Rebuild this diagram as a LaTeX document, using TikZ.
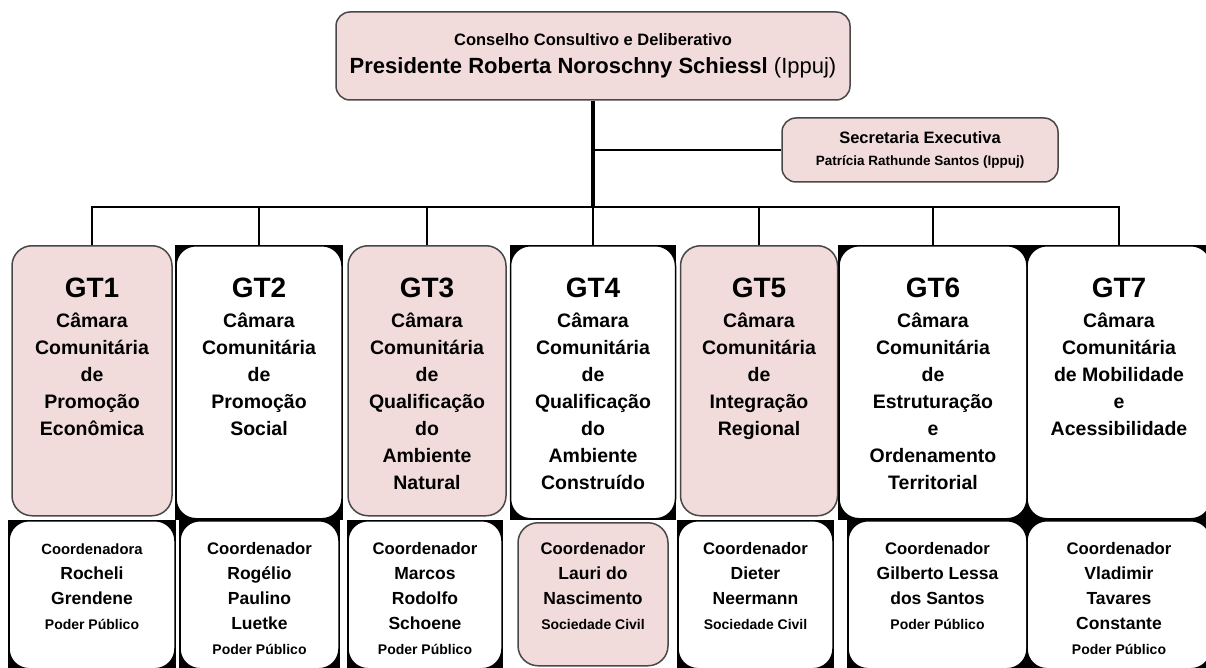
\documentclass[tikz,border=0pt]{standalone}
\usepackage{fontspec}
\setmainfont{Liberation Sans}
\usetikzlibrary{positioning}
\usetikzlibrary{backgrounds}
\definecolor{boxpink}{RGB}{242,220,219}
\definecolor{boxedge}{RGB}{72,72,72}
\newcommand{\gtfont}{\fontsize{28}{30}\selectfont}
\newcommand{\cofont}{\fontsize{16.7}{25}\selectfont}
\newcommand{\rolefont}{\fontsize{14}{25}\selectfont}
\tikzset{
    topbox/.style = {rectangle, rounded corners=14pt, line width=1.5pt, draw=boxedge, fill=boxpink, align=center, font=\fontsize{22}{28}\selectfont\bfseries},
    secbox/.style = {topbox, font=\fontsize{16.5}{22}\selectfont\bfseries},
    gtpink/.style = {rectangle, rounded corners=20pt, line width=1.5pt, draw=boxedge, fill=boxpink, anchor=north, align=flush center, inner sep=0pt, text height=52pt, text depth=218pt, font=\fontsize{19.5}{27}\selectfont\bfseries},
    gtwhite/.style = {gtpink, draw=black, fill=white, text depth=221pt},
    copink/.style = {rectangle, rounded corners=20pt, line width=1.5pt, draw=boxedge, fill=boxpink, anchor=north, align=flush center, inner sep=0pt, text height=32pt, text depth=111pt, font=\fontsize{17.5}{25}\selectfont\bfseries},
    cowhite/.style = {copink, draw=black, fill=white, text height=34pt, text depth=114pt},
    conn/.style = {line width=1.6pt, black},
    trunk/.style = {line width=3.2pt, black}
}

\begin{document}
\begin{tikzpicture}[x=1pt, y=-1pt]
  \useasboundingbox (0,0) rectangle (1206,668);

  % council and secretary
  \node[topbox, minimum width=514, minimum height=88] (cc) at (593,56)
    {{\fontsize{16.5}{20}\selectfont Conselho Consultivo e Deliberativo}\\
     Presidente Roberta Noroschny Schiessl {\mdseries(Ippuj)}};
  \node[secbox, minimum width=276, minimum height=64] (sec) at (920,150)
    {Secretaria Executiva\\ {\fontsize{13.5}{16}\selectfont Patrícia Rathunde Santos (Ippuj)}};

  % working groups
  \node[gtpink, text width=160] (gt1) at (92,245)
    {{\gtfont GT1}\\[3pt] Câmara\\ Comunitária\\ de\\ Promoção\\ Econômica};
  \node[gtwhite, text width=166] (gt2) at (259,245)
    {{\gtfont GT2}\\[3pt] Câmara\\ Comunitária\\ de\\ Promoção\\ Social};
  \node[gtpink, text width=158] (gt3) at (427,245)
    {{\gtfont GT3}\\[3pt] Câmara\\ Comunitária\\ de\\ Qualificação\\ do\\ Ambiente\\ Natural};
  \node[gtwhite, text width=165] (gt4) at (593,245)
    {{\gtfont GT4}\\[3pt] Câmara\\ Comunitária\\ de\\ Qualificação\\ do\\ Ambiente\\ Construído};
  \node[gtpink, text width=157] (gt5) at (759,245)
    {{\gtfont GT5}\\[3pt] Câmara\\ Comunitária\\ de\\ Integração\\ Regional};
  \node[gtwhite, text width=188] (gt6) at (933,245)
    {{\gtfont GT6}\\[3pt] Câmara\\ Comunitária\\ de\\ Estruturação\\ e\\ Ordenamento\\ Territorial};
  \node[gtwhite, text width=184] (gt7) at (1119,245)
    {{\gtfont GT7}\\[3pt] Câmara\\ Comunitária\\ de Mobilidade\\ e\\ Acessibilidade};

  % coordinators
  \node[cowhite, text width=166] (co1) at (92,520)
    {{\fontsize{14.8}{25}\selectfont Coordenadora}\\ Rocheli\\ Grendene\\ {\rolefont Poder Público}};
  \node[cowhite, text width=159] (co2) at (259.5,520)
    {{\cofont Coordenador}\\ Rogélio\\ Paulino\\ Luetke\\ {\rolefont Poder Público}};
  \node[cowhite, text width=154] (co3) at (425,520)
    {{\cofont Coordenador}\\ Marcos\\ Rodolfo\\ Schoene\\ {\rolefont Poder Público}};
  \node[copink, text width=150] (co4) at (593,522)
    {{\cofont Coordenador}\\ Lauri do\\ Nascimento\\ {\rolefont Sociedade Civil}};
  \node[cowhite, text width=155] (co5) at (755.5,520)
    {{\cofont Coordenador}\\ Dieter\\ Neermann\\ {\rolefont Sociedade Civil}};
  \node[cowhite, text width=179] (co6) at (937.5,520)
    {{\cofont Coordenador}\\ Gilberto Lessa\\ dos Santos\\ {\rolefont Poder Público}};
  \node[cowhite, text width=184] (co7) at (1119,520)
    {{\cofont Coordenador}\\ Vladimir\\ Tavares\\ Constante\\ {\rolefont Poder Público}};

  % black corners behind the white boxes
  \begin{scope}[on background layer]
    \foreach \n in {gt2,gt4,gt6,gt7,co1,co2,co3,co5,co6,co7}
      \fill[black] (\n.south west) rectangle (\n.north east);
  \end{scope}

  % connectors
  \coordinate (bus) at (593,207);
  \draw[trunk] (cc.south) -- (bus);
  \draw[conn] (sec.west) -- (sec.west -| cc.south);
  \draw[conn] (gt1.north) |- (bus) -| (gt7.north);
  \foreach \g in {gt2,gt3,gt4,gt5,gt6}
    \draw[conn] (\g.north) -- (\g.north |- bus);
\end{tikzpicture}
\end{document}
